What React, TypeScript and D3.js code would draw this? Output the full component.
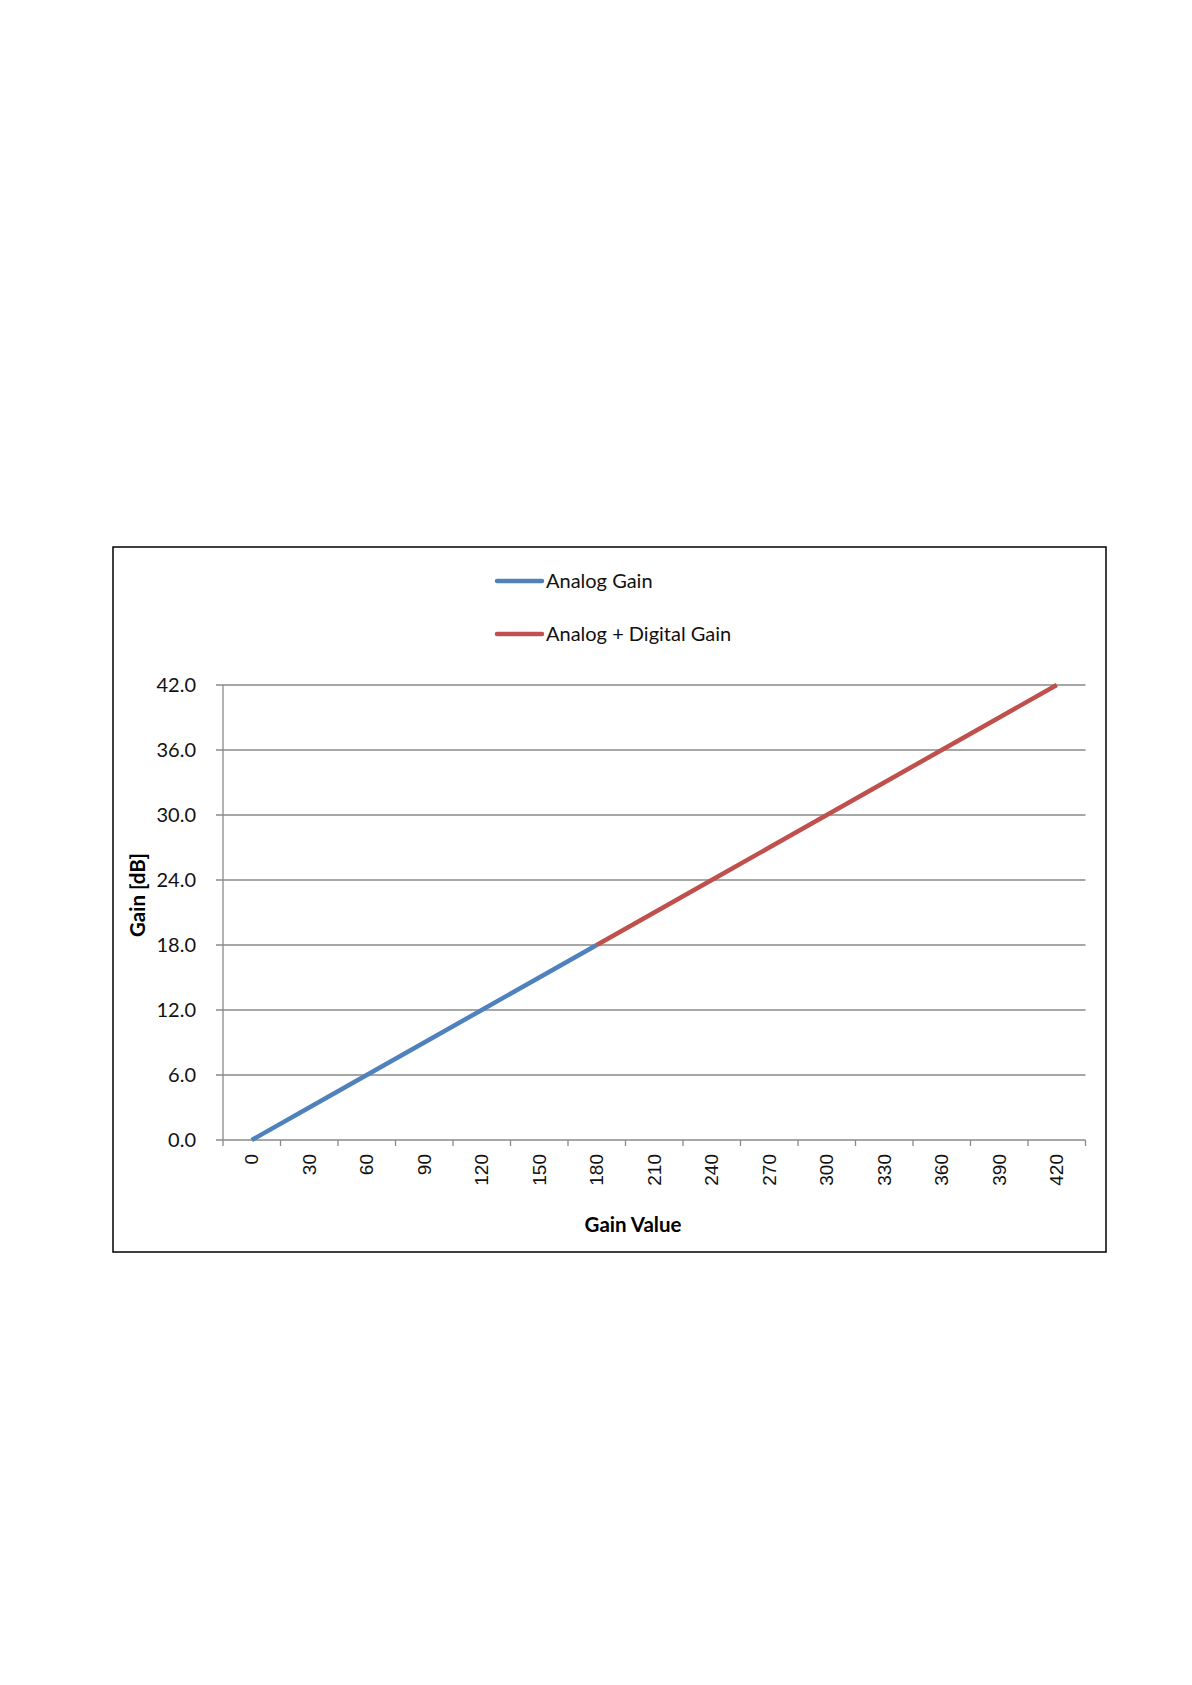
import * as d3 from 'd3';

const categories = ['0', '30', '60', '90', '120', '150', '180', '210', '240', '270', '300', '330', '360', '390', '420'];
const analogGain: (number | null)[] = [0, 3, 6, 9, 12, 15, 18, null, null, null, null, null, null, null, null];
const digitalGain: (number | null)[] = [null, null, null, null, null, null, 18, 21, 24, 27, 30, 33, 36, 39, 42];
const yTicks = [0, 6, 12, 18, 24, 30, 36, 42];

const seriesNames = ['Analog Gain', 'Analog + Digital Gain'];
const seriesColors = ['#4f81bd', '#c0504d'];

const W = 1192;
const H = 1685;
const FRAME = { left: 113, top: 547, right: 1106, bottom: 1252 };
const PLOT = { left: 223, right: 1085.5, top: 685, bottom: 1140 };
const LABEL_FONT = 'Lato, Calibri, "Open Sans", sans-serif';
const TICK_FONT = '"Liberation Sans", Arial, sans-serif';

export default function App() {
  const x = d3.scaleBand<string>().domain(categories).range([PLOT.left, PLOT.right]).padding(0);
  const y = d3.scaleLinear().domain([0, 42]).range([PLOT.bottom, PLOT.top]);

  const line = d3
    .line<number | null>()
    .defined((d) => d !== null)
    .x((_d, i) => (x(categories[i]) ?? 0) + x.bandwidth() / 2)
    .y((d) => y(d as number));

  // tick marks sit on the band edges (Excel category axis)
  const bounds = categories.map((c) => x(c) ?? 0).concat([PLOT.right]);

  return (
    <svg
      width={W}
      height={H}
      style={{ position: 'absolute', left: 0, top: 0, background: '#fff' }}
    >
      <rect
        x={FRAME.left}
        y={FRAME.top}
        width={FRAME.right - FRAME.left}
        height={FRAME.bottom - FRAME.top}
        fill="#fff"
        stroke="#000"
        strokeWidth={1.5}
      />

      {/* gridlines + y ticks */}
      {yTicks.map((t) => (
        <g key={t}>
          <line x1={PLOT.left - 7} x2={PLOT.right} y1={y(t)} y2={y(t)} stroke="#8a8a8a" strokeWidth={1.3} />
          <text
            x={196}
            y={y(t) + 7}
            textAnchor="end"
            fontFamily={LABEL_FONT}
            fontSize={20}
            fill="#111"
          >
            {t.toFixed(1)}
          </text>
        </g>
      ))}

      <line x1={PLOT.left} x2={PLOT.left} y1={PLOT.top} y2={PLOT.bottom} stroke="#8a8a8a" strokeWidth={1.3} />

      {/* x ticks */}
      {bounds.map((bx, i) => (
        <line key={i} x1={bx} x2={bx} y1={PLOT.bottom} y2={PLOT.bottom + 6} stroke="#8a8a8a" strokeWidth={1.3} />
      ))}
      {categories.map((c) => {
        const cx = (x(c) ?? 0) + x.bandwidth() / 2 + 6.5;
        const cy = PLOT.bottom + 14;
        return (
          <text
            key={c}
            transform={`translate(${cx},${cy}) rotate(-90)`}
            textAnchor="end"
            fontFamily={TICK_FONT}
            fontSize={19}
            fill="#111"
          >
            {c}
          </text>
        );
      })}

      {/* series */}
      <path d={line(analogGain) ?? ''} fill="none" stroke={seriesColors[0]} strokeWidth={4.5} strokeLinejoin="round" />
      <path d={line(digitalGain) ?? ''} fill="none" stroke={seriesColors[1]} strokeWidth={4.5} strokeLinejoin="round" />

      {/* axis titles */}
      <text
        x={633}
        y={1232}
        textAnchor="middle"
        fontFamily={LABEL_FONT}
        fontWeight="bold"
        fontSize={20.5}
        fill="#000"
      >
        Gain Value
      </text>
      <text
        transform="translate(145,895) rotate(-90)"
        textAnchor="middle"
        fontFamily={LABEL_FONT}
        fontWeight="bold"
        fontSize={20.5}
        fill="#000"
      >
        Gain [dB]
      </text>

      {/* legend */}
      {seriesNames.map((name, i) => {
        const ly = 581 + i * 53;
        return (
          <g key={name}>
            <line x1={497} x2={542} y1={ly} y2={ly} stroke={seriesColors[i]} strokeWidth={4.5} strokeLinecap="round" />
            <text x={546} y={ly + 7} fontFamily={LABEL_FONT} fontSize={20} fill="#111">
              {name}
            </text>
          </g>
        );
      })}
    </svg>
  );
}
